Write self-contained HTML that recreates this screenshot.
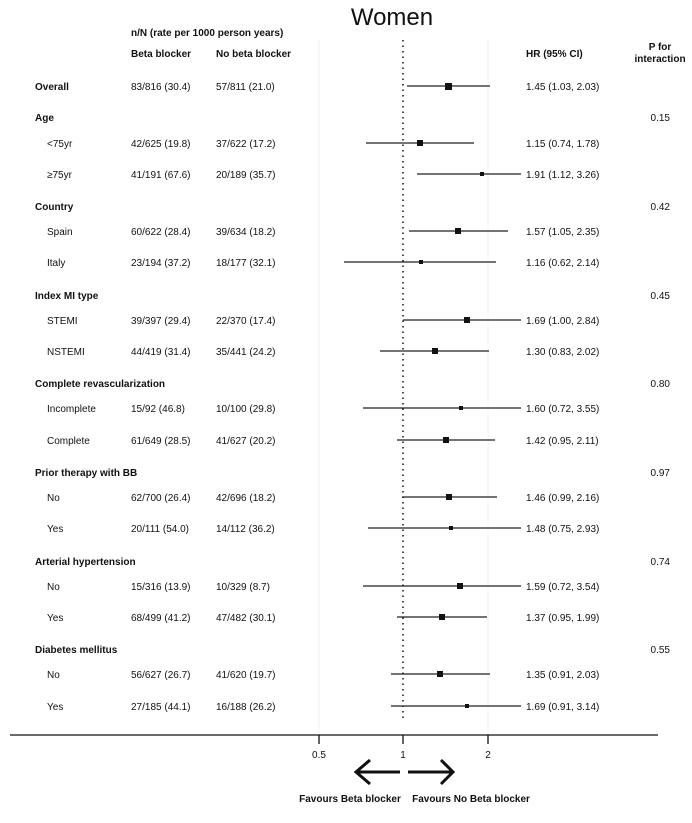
<!DOCTYPE html><html><head><meta charset="utf-8"><style>body{margin:0;background:#fff}svg{display:block}text{font-family:"Liberation Sans",Arial,sans-serif;fill:#111}</style></head><body>
<svg width="692" height="823" viewBox="0 0 692 823">
<text x="392" y="25" font-size="24" text-anchor="middle">Women</text>
<g font-size="10" font-weight="bold">
<text x="131" y="36">n/N (rate per 1000 person  years)</text>
<text x="131" y="57">Beta  blocker</text>
<text x="216" y="57">No beta  blocker</text>
<text x="526" y="57">HR (95% CI)</text>
<text x="660" y="50" text-anchor="middle">P for</text>
<text x="660" y="62" text-anchor="middle">interaction</text>
<text x="35" y="90">Overall</text>
<text x="35" y="121">Age</text>
<text x="35" y="210">Country</text>
<text x="35" y="299">Index MI type</text>
<text x="35" y="387">Complete revascularization</text>
<text x="35" y="476">Prior therapy with BB</text>
<text x="35" y="565">Arterial hypertension</text>
<text x="35" y="653">Diabetes mellitus</text>
</g>
<line x1="319" y1="40" x2="319" y2="735" stroke="#f2f2f2"/>
<line x1="488" y1="40" x2="488" y2="735" stroke="#f2f2f2"/>
<line x1="403" y1="40" x2="403" y2="722" stroke="#111" stroke-width="1.5" stroke-dasharray="1.5,4"/>
<g font-size="10">
<text x="131" y="90">83/816 (30.4)</text><text x="216" y="90">57/811 (21.0)</text><text x="526" y="90">1.45 (1.03, 2.03)</text>
<text x="670" y="121" text-anchor="end">0.15</text>
<text x="47" y="147">&lt;75yr</text><text x="131" y="147">42/625 (19.8)</text><text x="216" y="147">37/622 (17.2)</text><text x="526" y="147">1.15 (0.74, 1.78)</text>
<text x="47" y="178">≥75yr</text><text x="131" y="178">41/191 (67.6)</text><text x="216" y="178">20/189 (35.7)</text><text x="526" y="178">1.91 (1.12, 3.26)</text>
<text x="670" y="210" text-anchor="end">0.42</text>
<text x="47" y="235">Spain</text><text x="131" y="235">60/622 (28.4)</text><text x="216" y="235">39/634 (18.2)</text><text x="526" y="235">1.57 (1.05, 2.35)</text>
<text x="47" y="266">Italy</text><text x="131" y="266">23/194 (37.2)</text><text x="216" y="266">18/177 (32.1)</text><text x="526" y="266">1.16 (0.62, 2.14)</text>
<text x="670" y="299" text-anchor="end">0.45</text>
<text x="47" y="324">STEMI</text><text x="131" y="324">39/397 (29.4)</text><text x="216" y="324">22/370 (17.4)</text><text x="526" y="324">1.69 (1.00, 2.84)</text>
<text x="47" y="355">NSTEMI</text><text x="131" y="355">44/419 (31.4)</text><text x="216" y="355">35/441 (24.2)</text><text x="526" y="355">1.30 (0.83, 2.02)</text>
<text x="670" y="387" text-anchor="end">0.80</text>
<text x="47" y="412">Incomplete</text><text x="131" y="412">15/92 (46.8)</text><text x="216" y="412">10/100 (29.8)</text><text x="526" y="412">1.60 (0.72, 3.55)</text>
<text x="47" y="444">Complete</text><text x="131" y="444">61/649 (28.5)</text><text x="216" y="444">41/627 (20.2)</text><text x="526" y="444">1.42 (0.95, 2.11)</text>
<text x="670" y="476" text-anchor="end">0.97</text>
<text x="47" y="501">No</text><text x="131" y="501">62/700 (26.4)</text><text x="216" y="501">42/696 (18.2)</text><text x="526" y="501">1.46 (0.99, 2.16)</text>
<text x="47" y="532">Yes</text><text x="131" y="532">20/111 (54.0)</text><text x="216" y="532">14/112 (36.2)</text><text x="526" y="532">1.48 (0.75, 2.93)</text>
<text x="670" y="565" text-anchor="end">0.74</text>
<text x="47" y="590">No</text><text x="131" y="590">15/316 (13.9)</text><text x="216" y="590">10/329 (8.7)</text><text x="526" y="590">1.59 (0.72, 3.54)</text>
<text x="47" y="621">Yes</text><text x="131" y="621">68/499 (41.2)</text><text x="216" y="621">47/482 (30.1)</text><text x="526" y="621">1.37 (0.95, 1.99)</text>
<text x="670" y="653" text-anchor="end">0.55</text>
<text x="47" y="678">No</text><text x="131" y="678">56/627 (26.7)</text><text x="216" y="678">41/620 (19.7)</text><text x="526" y="678">1.35 (0.91, 2.03)</text>
<text x="47" y="710">Yes</text><text x="131" y="710">27/185 (44.1)</text><text x="216" y="710">16/188 (26.2)</text><text x="526" y="710">1.69 (0.91, 3.14)</text>
</g>
<g stroke="#222" stroke-width="1.2">
<line x1="407" y1="86" x2="490" y2="86"/>
<line x1="366" y1="143" x2="474" y2="143"/>
<line x1="417" y1="174" x2="521" y2="174"/>
<line x1="409" y1="231" x2="508" y2="231"/>
<line x1="344" y1="262" x2="496" y2="262"/>
<line x1="403" y1="320" x2="521" y2="320"/>
<line x1="380" y1="351" x2="489" y2="351"/>
<line x1="363" y1="408" x2="521" y2="408"/>
<line x1="397" y1="440" x2="495" y2="440"/>
<line x1="402" y1="497" x2="497" y2="497"/>
<line x1="368" y1="528" x2="521" y2="528"/>
<line x1="363" y1="586" x2="521" y2="586"/>
<line x1="397" y1="617" x2="487" y2="617"/>
<line x1="391" y1="674" x2="490" y2="674"/>
<line x1="391" y1="706" x2="521" y2="706"/>
</g>
<g fill="#111">
<rect x="445" y="83" width="7" height="7"/>
<rect x="417" y="140" width="6" height="6"/>
<rect x="480" y="172" width="4" height="4"/>
<rect x="455" y="228" width="6" height="6"/>
<rect x="419" y="260" width="4" height="4"/>
<rect x="464" y="317" width="6" height="6"/>
<rect x="432" y="348" width="6" height="6"/>
<rect x="459" y="406" width="4" height="4"/>
<rect x="443" y="437" width="6" height="6"/>
<rect x="446" y="494" width="6" height="6"/>
<rect x="449" y="526" width="4" height="4"/>
<rect x="457" y="583" width="6" height="6"/>
<rect x="439" y="614" width="6" height="6"/>
<rect x="437" y="671" width="6" height="6"/>
<rect x="465" y="704" width="4" height="4"/>
</g>
<line x1="10" y1="735" x2="658" y2="735" stroke="#111" stroke-width="1.3"/>
<g stroke="#111" stroke-width="1.3"><line x1="319" y1="735" x2="319" y2="744"/><line x1="403" y1="735" x2="403" y2="744"/><line x1="488" y1="735" x2="488" y2="744"/></g>
<g font-size="10" text-anchor="middle"><text x="319" y="758">0.5</text><text x="403" y="758">1</text><text x="488" y="758">2</text></g>
<g stroke="#111" stroke-width="3" fill="none">
<line x1="356" y1="772" x2="400" y2="772"/><polyline points="370,760 356,772 370,784"/>
<line x1="408" y1="772" x2="452" y2="772"/><polyline points="441,760 453,772 441,784"/>
</g>
<g font-size="10" font-weight="bold" text-anchor="middle"><text x="350" y="802">Favours Beta  blocker</text><text x="471" y="802">Favours No Beta  blocker</text></g>
</svg></body></html>
